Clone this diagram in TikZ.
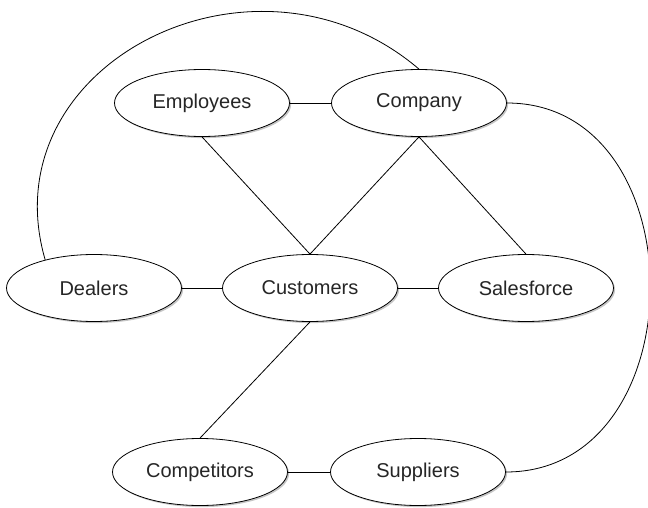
\documentclass[tikz,border=0pt]{standalone}
\usepackage{fontspec}
\setmainfont{Liberation Sans}
\usetikzlibrary{shapes.geometric,shadows}
\tikzset{entity/.style={ellipse,draw,fill=white,minimum width=175pt,minimum height=67pt,inner sep=0pt,
  drop shadow={shadow xshift=1.6pt,shadow yshift=-1.6pt,fill=black!45},
  text=black!85,font=\fontsize{20}{23}\selectfont}}
\begin{document}
\begin{tikzpicture}[x=1pt,y=1pt,line width=0.8pt]
\useasboundingbox (0,0) rectangle (648,507);
\node[entity] (emp) at (202,404){Employees};\node[entity] (comp) at (419,404){Company};
\node[entity] (deal) at (94,219){Dealers};\node[entity] (cust) at (310,219){Customers};\node[entity] (sales) at (526,219){Salesforce};
\node[entity] (compet) at (200,35){Competitors};\node[entity] (supp) at (418,35){Suppliers};
\draw (emp)--(comp);\draw (deal)--(cust);\draw (cust)--(sales);\draw (compet)--(supp);
\draw (emp.south)--(cust.north);\draw (comp.south)--(cust.north);\draw (comp.south)--(sales.north);\draw (cust.south)--(compet.north);
\draw (deal.150) .. controls +(-57,196) and +(-164,140) .. (comp.north);
\draw (comp.east) .. controls +(192,0) and +(192,0) .. (supp.east);
\end{tikzpicture}
\end{document}
